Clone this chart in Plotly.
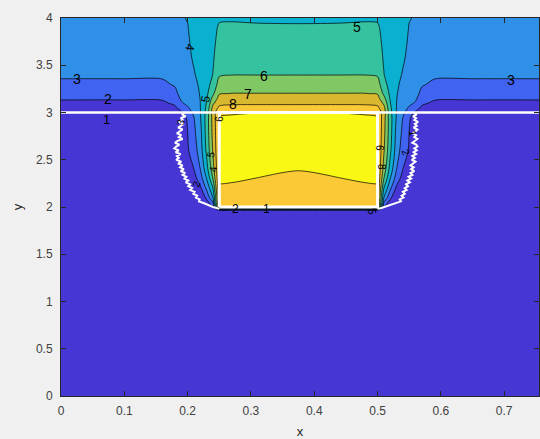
import plotly.graph_objects as go
import numpy as np

# grid nodes
x_nodes = [0, 0.10, 0.16, 0.18, 0.19, 0.20, 0.21, 0.22, 0.23, 0.24, 0.25, 0.27, 0.31, 0.375,
           0.44, 0.48, 0.50, 0.51, 0.52, 0.53, 0.54, 0.55, 0.56, 0.57, 0.59, 0.65, 0.755]
y_nodes = [0, 1.96, 2.0, 2.1, 2.2, 2.3, 2.4, 2.6, 2.8, 2.95, 3.0, 3.05, 3.1, 3.15, 3.2,
           3.3, 3.4, 3.5, 3.6, 3.8, 3.9, 3.95, 4.0]

# z values per column (bottom -> top), estimated from the contour positions
col_000 = [1, 1, 1, 1, 1, 1, 1, 1, 1, 1, 1.0, 1.4, 1.8, 2.1, 2.35, 2.8, 3.15, 3.3, 3.45, 3.7, 3.8, 3.85, 3.9]
col_010 = [1, 1, 1, 1, 1, 1, 1, 1, 1, 1, 1.0, 1.4, 1.8, 2.1, 2.35, 2.8, 3.15, 3.3, 3.45, 3.7, 3.8, 3.85, 3.9]
col_016 = [1, 1, 1, 1, 1, 1, 1, 1, 1, 1, 1.02, 1.42, 1.82, 2.12, 2.37, 2.82, 3.15, 3.32, 3.48, 3.72, 3.82, 3.86, 3.9]
col_018 = [1, 1, 1, 1, 1, 1, 1, 1, 1, 1, 1.3, 1.8, 2.2, 2.5, 2.75, 3.1, 3.35, 3.5, 3.6, 3.75, 3.85, 3.9, 3.92]
col_019 = [1, 1, 1, 1, 1, 1, 1, 1, 1, 1, 1.8, 2.5, 2.9, 3.15, 3.3, 3.5, 3.65, 3.75, 3.8, 3.9, 3.95, 3.96, 3.97]
col_020 = [1, 1, 1, 1, 1.0, 1.2, 1.5, 1.9, 2.0, 2.3, 2.6, 2.9, 3.2, 3.4, 3.5, 3.65, 3.75, 3.83, 3.88, 3.95, 3.98, 4.0, 4.02]
col_021 = [1, 1, 1, 1.0, 1.2, 1.6, 2.0, 2.5, 2.8, 3.0, 3.2, 3.35, 3.5, 3.6, 3.7, 3.85, 3.95, 4.02, 4.08, 4.15, 4.18, 4.2, 4.2]
col_022 = [1, 1, 1.0, 1.2, 1.8, 2.5, 3.0, 3.5, 3.7, 3.9, 3.95, 3.98, 4.0, 4.02, 4.05, 4.1, 4.18, 4.25, 4.3, 4.35, 4.38, 4.4, 4.4]
col_023 = [1, 1, 1.2, 2.2, 3.2, 4.0, 4.6, 5.2, 5.4, 5.4, 5.3, 5.2, 5.05, 4.9, 4.8, 4.65, 4.6, 4.6, 4.6, 4.6, 4.62, 4.62, 4.6]
col_024 = [1, 1, 2.0, 4.0, 5.0, 6.0, 6.6, 7.1, 7.3, 7.4, 7.5, 7.3, 6.8, 6.3, 5.8, 5.3, 5.02, 4.97, 4.95, 4.9, 4.88, 4.85, 4.8]
col_025 = [1, 1, 8.3, 8.7, 8.98, 9.02, 9.05, 9.05, 9.05, 9.02, 8.8, 8.2, 7.7, 7.3, 6.95, 6.4, 5.9, 5.3, 5.2, 5.1, 5.05, 5.0, 4.95]
col_027 = [1, 1, 8.3, 8.7, 8.93, 9.05, 9.12, 9.2, 9.2, 9.1, 8.9, 8.35, 7.8, 7.4, 7.02, 6.5, 5.98, 5.7, 5.5, 5.25, 5.1, 5.02, 4.92]
col_031 = [1, 1, 8.4, 8.7, 8.9, 8.99, 9.1, 9.3, 9.3, 9.15, 8.98, 8.4, 7.8, 7.4, 7.02, 6.5, 5.98, 5.72, 5.55, 5.3, 5.1, 4.99, 4.88]
col_0375 = [1, 1, 8.4, 8.7, 8.85, 8.95, 9.01, 9.35, 9.35, 9.2, 9.02, 8.4, 7.8, 7.4, 7.02, 6.5, 5.98, 5.72, 5.55, 5.28, 5.08, 4.98, 4.85]
col_044 = [1, 1, 8.4, 8.7, 8.9, 8.99, 9.1, 9.3, 9.3, 9.15, 8.98, 8.4, 7.8, 7.4, 7.02, 6.5, 5.98, 5.72, 5.55, 5.3, 5.1, 4.99, 4.88]
col_048 = [1, 1, 8.3, 8.7, 8.93, 9.05, 9.12, 9.2, 9.2, 9.1, 8.9, 8.35, 7.8, 7.4, 7.02, 6.5, 5.98, 5.7, 5.5, 5.25, 5.1, 5.02, 4.92]
col_050 = [1, 1, 8.3, 8.7, 8.98, 9.02, 9.05, 9.05, 9.05, 9.02, 8.8, 8.2, 7.7, 7.3, 6.95, 6.4, 5.9, 5.3, 5.2, 5.1, 5.05, 5.0, 4.95]
col_051 = [1, 1, 2.0, 4.0, 5.0, 6.0, 6.6, 7.1, 7.3, 7.4, 7.5, 7.3, 6.8, 6.3, 5.8, 5.3, 5.02, 4.97, 4.95, 4.9, 4.88, 4.85, 4.8]
col_052 = [1, 1, 1.2, 2.2, 3.2, 4.0, 4.6, 5.2, 5.4, 5.4, 5.3, 5.2, 5.05, 4.9, 4.8, 4.65, 4.6, 4.6, 4.6, 4.6, 4.62, 4.62, 4.6]
col_053 = [1, 1, 1.0, 1.2, 1.8, 2.5, 3.0, 3.5, 3.7, 3.9, 3.95, 3.98, 4.0, 4.02, 4.05, 4.1, 4.18, 4.25, 4.3, 4.35, 4.38, 4.4, 4.4]
col_054 = [1, 1, 1, 1.0, 1.2, 1.6, 2.0, 2.5, 2.8, 3.0, 3.2, 3.35, 3.5, 3.6, 3.7, 3.85, 3.95, 4.02, 4.08, 4.15, 4.18, 4.2, 4.2]
col_055 = [1, 1, 1, 1, 1.0, 1.2, 1.5, 1.9, 2.0, 2.3, 2.6, 2.9, 3.2, 3.4, 3.5, 3.65, 3.75, 3.83, 3.88, 3.95, 3.98, 4.0, 4.02]
col_056 = [1, 1, 1, 1, 1, 1, 1, 1, 1, 1, 1.8, 2.5, 2.9, 3.15, 3.3, 3.5, 3.65, 3.75, 3.8, 3.9, 3.95, 3.96, 3.97]
col_057 = [1, 1, 1, 1, 1, 1, 1, 1, 1, 1, 1.3, 1.8, 2.2, 2.5, 2.75, 3.1, 3.35, 3.5, 3.6, 3.75, 3.85, 3.9, 3.92]
col_059 = [1, 1, 1, 1, 1, 1, 1, 1, 1, 1, 1.02, 1.42, 1.82, 2.12, 2.37, 2.82, 3.15, 3.32, 3.48, 3.72, 3.82, 3.86, 3.9]
col_065 = [1, 1, 1, 1, 1, 1, 1, 1, 1, 1, 1.0, 1.4, 1.8, 2.1, 2.35, 2.8, 3.15, 3.3, 3.45, 3.7, 3.8, 3.85, 3.9]
col_0755 = [1, 1, 1, 1, 1, 1, 1, 1, 1, 1, 1.0, 1.4, 1.8, 2.1, 2.35, 2.8, 3.15, 3.3, 3.45, 3.7, 3.8, 3.85, 3.9]

columns = [col_000, col_010, col_016, col_018, col_019, col_020, col_021, col_022, col_023, col_024,
           col_025, col_027, col_031, col_0375, col_044, col_048, col_050, col_051, col_052, col_053,
           col_054, col_055, col_056, col_057, col_059, col_065, col_0755]
z = np.array(columns).T  # rows follow y_nodes

# contour levels and band colours (parula-like)
levels_start, levels_end, levels_step = 2, 9, 1
band_colors = ["#4636d4", "#4163f2", "#3090e8", "#0ab0d0", "#35c39f",
               "#7fc864", "#d8b82e", "#fbc935", "#f8f814"]

# white overlay lines
interface_x = [0, 0.755]
interface_y = [3, 3]
box_x = [0.25, 0.5, 0.5, 0.25, 0.25]
box_y = [2, 2, 3, 3, 2]
edge_y = [3.00, 2.98, 2.96, 2.94, 2.92, 2.90, 2.88, 2.86, 2.84, 2.82, 2.80, 2.78, 2.76, 2.74,
          2.72, 2.70, 2.68, 2.66, 2.64, 2.62, 2.60, 2.58, 2.56, 2.54, 2.52, 2.50, 2.48, 2.46,
          2.44, 2.42, 2.40, 2.38, 2.36, 2.34, 2.32, 2.30, 2.28, 2.26, 2.24, 2.22, 2.20, 2.18,
          2.16, 2.14, 2.12, 2.10, 2.08, 2.06, 2.04, 2.02, 2.00, 1.99, 1.98]
left_edge_x = [0.196, 0.191, 0.197, 0.189, 0.193, 0.186, 0.194, 0.190, 0.185, 0.192, 0.187, 0.183,
               0.190, 0.186, 0.192, 0.184, 0.180, 0.187, 0.182, 0.179, 0.186, 0.181, 0.189, 0.183,
               0.186, 0.182, 0.190, 0.185, 0.192, 0.188, 0.194, 0.189, 0.196, 0.192, 0.198, 0.195,
               0.201, 0.197, 0.204, 0.201, 0.207, 0.204, 0.211, 0.209, 0.215, 0.213, 0.219, 0.218,
               0.226, 0.232, 0.240, 0.246, 0.250]
right_edge_x = [0.557, 0.562, 0.556, 0.561, 0.558, 0.564, 0.559, 0.562, 0.557, 0.563, 0.560, 0.556,
                0.561, 0.558, 0.563, 0.559, 0.555, 0.561, 0.563, 0.558, 0.562, 0.557, 0.561, 0.555,
                0.559, 0.554, 0.560, 0.556, 0.552, 0.557, 0.553, 0.558, 0.552, 0.555, 0.549, 0.553,
                0.547, 0.551, 0.545, 0.548, 0.543, 0.546, 0.540, 0.543, 0.538, 0.541, 0.535, 0.537,
                0.529, 0.521, 0.512, 0.506, 0.500]

# contour labels: text, x, y, angle, size
label_text = ["3", "2", "1", "4", "5", "6", "7", "8", "5", "3", "2", "1", "5",
              "3", "6", "5", "4", "2", "6", "8", "2", "1"]
label_x = [0.026, 0.074, 0.072, 0.203, 0.229, 0.320, 0.296, 0.272, 0.468, 0.711, 0.276, 0.325, 0.492,
           0.190, 0.249, 0.236, 0.240, 0.214, 0.503, 0.506, 0.545, 0.556]
label_y = [3.355, 3.14, 2.93, 3.69, 3.15, 3.385, 3.20, 3.085, 3.91, 3.345, 1.975, 1.975, 1.95,
           2.90, 2.93, 2.56, 2.40, 2.25, 2.62, 2.42, 2.58, 2.78]
label_angle = [0, 0, 0, 100, -80, 0, 0, 0, 0, 0, 0, 0, 80,
               -80, -90, -80, -85, -70, 90, 90, 70, 80]
label_size = [14, 14, 13, 12, 12, 14, 14, 14, 14, 14, 12, 12, 11,
              10, 10, 10, 10, 10, 10, 10, 10, 10]

fig = go.Figure()
n_bands = len(band_colors)
colorscale = [[i / (n_bands - 1), c] for i, c in enumerate(band_colors)]
fig.add_trace(go.Contour(
    x=x_nodes, y=y_nodes, z=z,
    autocontour=False,
    contours=dict(start=levels_start, end=levels_end, size=levels_step,
                  coloring="fill", showlines=True),
    line=dict(color="black", width=0.7, smoothing=0.8),
    colorscale=colorscale, showscale=False, hoverinfo="skip",
))

fig.add_trace(go.Scatter(x=left_edge_x, y=edge_y, mode="lines",
                         line=dict(color="white", width=2), hoverinfo="skip"))
fig.add_trace(go.Scatter(x=right_edge_x, y=edge_y, mode="lines",
                         line=dict(color="white", width=2), hoverinfo="skip"))
fig.add_trace(go.Scatter(x=interface_x, y=interface_y, mode="lines",
                         line=dict(color="white", width=2.5), hoverinfo="skip"))
fig.add_trace(go.Scatter(x=box_x, y=box_y, mode="lines",
                         line=dict(color="white", width=3), hoverinfo="skip"))

for t, lx, ly, a, s in zip(label_text, label_x, label_y, label_angle, label_size):
    fig.add_annotation(x=lx, y=ly, xref="x", yref="y", text=t, showarrow=False,
                       textangle=a, font=dict(family="Liberation Sans, Arial", size=s, color="black"))

axis_font = dict(family="Liberation Sans, Arial", size=12, color="#404040")
title_font = dict(family="Liberation Sans, Arial", size=13, color="#262626")
xticks = [0, 0.1, 0.2, 0.3, 0.4, 0.5, 0.6, 0.7]
yticks = [0, 0.5, 1, 1.5, 2, 2.5, 3, 3.5, 4]
fig.update_layout(
    width=540, height=439,
    margin=dict(l=61, r=1, t=18, b=43),
    paper_bgcolor="#f0f0f0", plot_bgcolor="#4636d4",
    showlegend=False,
    xaxis=dict(range=[0, 0.755], tickvals=xticks, ticktext=[f"{v:g}" for v in xticks],
               ticks="inside", ticklen=5, tickcolor="#262626", showline=True, linecolor="#262626",
               linewidth=1, mirror="ticks", showgrid=False, zeroline=False, tickfont=axis_font,
               ticklabelstandoff=4, automargin=False,
               title=dict(text="x", font=title_font, standoff=12)),
    yaxis=dict(range=[0, 4], tickvals=yticks, ticktext=[f"{v:g}" for v in yticks],
               ticks="inside", ticklen=5, tickcolor="#262626", showline=True, linecolor="#262626",
               linewidth=1, mirror="ticks", showgrid=False, zeroline=False, tickfont=axis_font,
               ticklabelstandoff=5, automargin=False,
               title=dict(text="y", font=title_font, standoff=10)),
)

fig.write_html("out.html")
